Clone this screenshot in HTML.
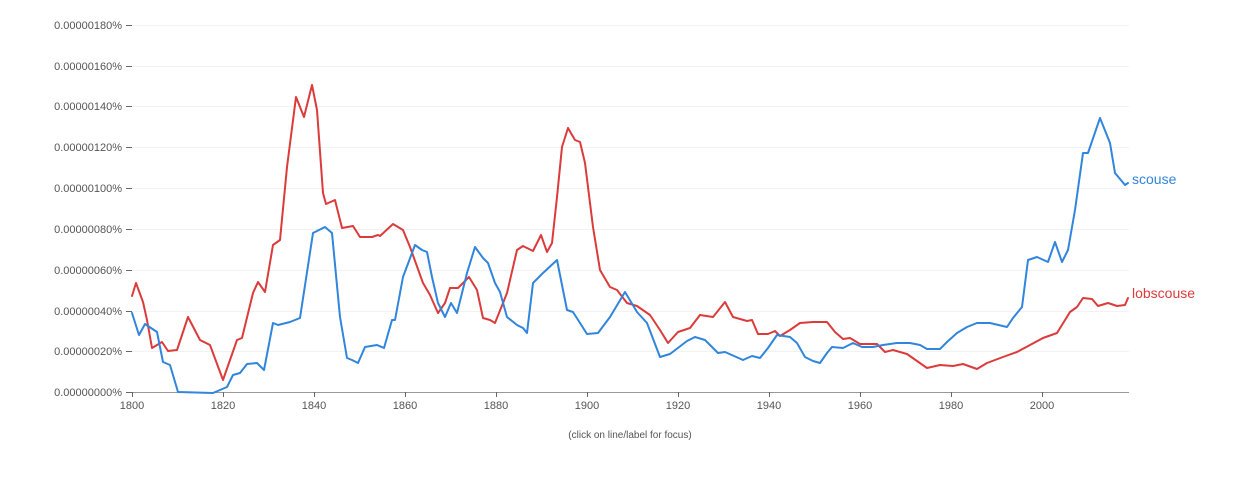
<!DOCTYPE html>
<html><head><meta charset="utf-8"><style>
body{margin:0;background:#fff;}
svg{display:block;font-family:"Liberation Sans",sans-serif;}
</style></head><body>
<svg width="1244" height="490" viewBox="0 0 1244 490">
<g stroke="#f2f2f2" stroke-width="1">
<line x1="132" x2="1129" y1="25.5" y2="25.5"/><line x1="132" x2="1129" y1="66.5" y2="66.5"/><line x1="132" x2="1129" y1="106.5" y2="106.5"/><line x1="132" x2="1129" y1="147.5" y2="147.5"/><line x1="132" x2="1129" y1="188.5" y2="188.5"/><line x1="132" x2="1129" y1="229.5" y2="229.5"/><line x1="132" x2="1129" y1="270.5" y2="270.5"/><line x1="132" x2="1129" y1="311.5" y2="311.5"/><line x1="132" x2="1129" y1="351.5" y2="351.5"/>
</g>
<g stroke="#666" stroke-width="1">
<line x1="126" x2="132" y1="25.5" y2="25.5"/><line x1="126" x2="132" y1="66.5" y2="66.5"/><line x1="126" x2="132" y1="106.5" y2="106.5"/><line x1="126" x2="132" y1="147.5" y2="147.5"/><line x1="126" x2="132" y1="188.5" y2="188.5"/><line x1="126" x2="132" y1="229.5" y2="229.5"/><line x1="126" x2="132" y1="270.5" y2="270.5"/><line x1="126" x2="132" y1="311.5" y2="311.5"/><line x1="126" x2="132" y1="351.5" y2="351.5"/><line x1="126" x2="132" y1="392.5" y2="392.5"/>
<line x1="132" x2="1129" y1="392.5" y2="392.5" stroke="#999"/>
<line x1="132.5" x2="132.5" y1="392" y2="397"/><line x1="223.5" x2="223.5" y1="392" y2="397"/><line x1="314.5" x2="314.5" y1="392" y2="397"/><line x1="405.5" x2="405.5" y1="392" y2="397"/><line x1="496.5" x2="496.5" y1="392" y2="397"/><line x1="587.5" x2="587.5" y1="392" y2="397"/><line x1="678.5" x2="678.5" y1="392" y2="397"/><line x1="769.5" x2="769.5" y1="392" y2="397"/><line x1="860.5" x2="860.5" y1="392" y2="397"/><line x1="951.5" x2="951.5" y1="392" y2="397"/><line x1="1042.5" x2="1042.5" y1="392" y2="397"/>
</g>
<g font-size="11" fill="#555" text-anchor="end">
<text x="122" y="29">0.00000180%</text><text x="122" y="70">0.00000160%</text><text x="122" y="110">0.00000140%</text><text x="122" y="151">0.00000120%</text><text x="122" y="192">0.00000100%</text><text x="122" y="233">0.00000080%</text><text x="122" y="274">0.00000060%</text><text x="122" y="315">0.00000040%</text><text x="122" y="355">0.00000020%</text><text x="122" y="396">0.00000000%</text>
</g>
<g font-size="11" fill="#555" text-anchor="middle">
<text x="132" y="409">1800</text><text x="223" y="409">1820</text><text x="314" y="409">1840</text><text x="405" y="409">1860</text><text x="496" y="409">1880</text><text x="587" y="409">1900</text><text x="678" y="409">1920</text><text x="769" y="409">1940</text><text x="860" y="409">1960</text><text x="951" y="409">1980</text><text x="1042" y="409">2000</text>
<text x="630" y="438" font-size="10">(click on line/label for focus)</text>
</g>
<g fill="none" stroke-width="2" stroke-linejoin="round" stroke-linecap="round">
<polyline stroke="#db3b3b" points="132,296 136,283 143,302 147,320 152,348 162,342 168,351 177,350 188,317 200,340 210,345 223,380 237,340 242,338 253,293 258,282 265,292 273,245 280,240 287,167 296,97 304,117 312,85 317,110 323,193 326,204 335,200 342,228 353,226 360,237 372,237 378,235 380,236 393,224 403,230 410,247 423,283 430,295 438,313 445,303 450,288 458,288 469,277 477,290 483,318 490,320 495,323 507,293 517,250 523,246 533,251 541,235 547,252 552,243 557,197 562,147 568,128 575,140 580,142 585,163 593,227 600,270 610,287 617,290 627,303 637,306 650,315 660,330 668,343 678,332 690,328 700,315 713,317 725,302 733,317 747,321 752,320 758,334 768,334 775,331 780,336 790,330 800,323 813,322 827,322 835,332 843,339 850,338 860,344 877,344 885,352 893,350 907,354 917,361 927,368 940,365 953,366 963,364 977,369 987,363 1003,357 1017,352 1030,345 1043,338 1057,333 1070,312 1077,307 1083,298 1092,299 1098,306 1108,303 1117,306 1125,305 1128,298"/>
<polyline stroke="#3085dc" points="132,313 139,335 145,324 157,332 163,362 170,365 178,392 213,393 227,387 233,375 240,373 247,364 257,363 264,370 273,323 278,325 290,322 300,318 313,233 325,227 332,233 340,317 347,358 352,360 358,363 365,347 377,345 384,348 392,320 395,320 403,277 415,245 422,250 427,252 432,277 438,303 445,317 451,303 457,313 467,273 475,247 483,258 488,263 495,283 500,292 507,317 517,325 523,328 527,333 533,283 543,273 557,260 567,310 573,312 587,334 598,333 610,317 625,292 637,312 647,323 660,357 670,354 687,341 695,337 705,340 718,353 725,352 743,360 752,356 760,358 768,348 777,335 790,337 797,343 805,357 813,361 820,363 827,353 832,347 843,348 853,343 862,347 873,347 883,345 897,343 910,343 920,345 927,349 940,349 947,342 957,333 967,327 977,323 990,323 1007,327 1013,318 1022,307 1028,260 1037,257 1048,262 1055,242 1062,262 1068,250 1075,210 1083,153 1088,153 1100,118 1110,143 1115,173 1125,185 1128,183"/>
</g>
<text x="1132" y="184" font-size="14" fill="#3085dc">scouse</text>
<text x="1132" y="298" font-size="14" fill="#db3b3b">lobscouse</text>
</svg>
</body></html>
